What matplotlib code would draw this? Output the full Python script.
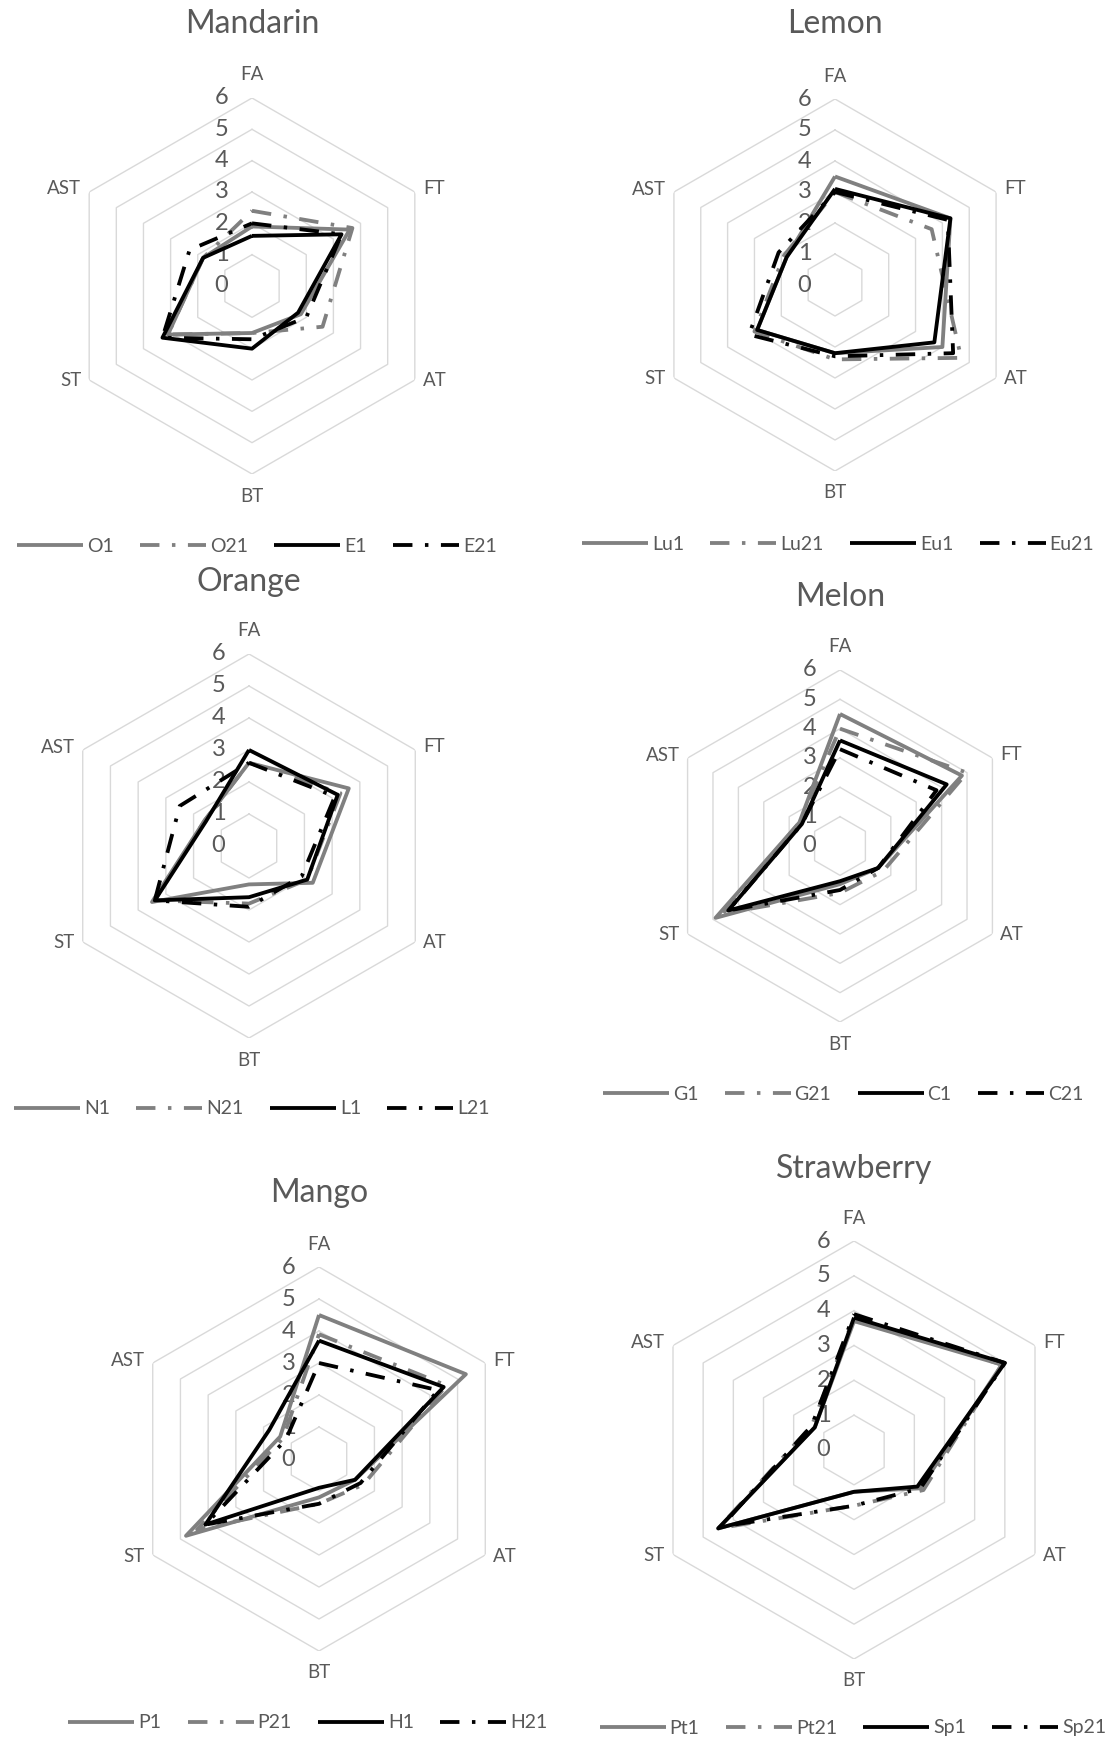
import numpy as np
import matplotlib.pyplot as plt

plt.rcParams['font.family'] = ['Lato', 'DejaVu Sans']
plt.rcParams['lines.scale_dashes'] = False

categories = ['FA', 'FT', 'AT', 'BT', 'ST', 'AST']
levels = [0, 1, 2, 3, 4, 5, 6]

# values per attribute, in the order of categories
mandarin_names = ['O1', 'O21', 'E1', 'E21']
mandarin_o1 = [1.9, 3.6, 1.8, 1.5, 3.1, 1.8]
mandarin_o21 = [2.4, 3.7, 2.6, 1.5, 3.1, 1.8]
mandarin_e1 = [1.6, 3.3, 1.7, 2.0, 3.3, 1.8]
mandarin_e21 = [2.0, 3.3, 2.0, 1.7, 3.3, 2.3]

lemon_names = ['Lu1', 'Lu21', 'Eu1', 'Eu21']
lemon_lu1 = [3.5, 4.3, 4.0, 2.2, 2.9, 1.8]
lemon_lu21 = [3.0, 3.6, 4.7, 2.4, 3.0, 1.9]
lemon_eu1 = [3.1, 4.3, 3.7, 2.2, 2.9, 1.8]
lemon_eu21 = [3.0, 4.2, 4.4, 2.3, 3.2, 2.1]

orange_names = ['N1', 'N21', 'L1', 'L21']
orange_n1 = [2.6, 3.6, 2.3, 1.2, 3.5, 1.6]
orange_n21 = [2.6, 3.3, 2.1, 1.8, 3.4, 1.6]
orange_l1 = [3.0, 3.2, 2.1, 1.6, 3.4, 1.55]
orange_l21 = [2.6, 3.1, 1.9, 1.9, 3.4, 2.5]

melon_names = ['G1', 'G21', 'C1', 'C21']
melon_g1 = [4.5, 4.8, 1.5, 1.3, 4.9, 1.6]
melon_g21 = [4.0, 5.0, 1.7, 1.6, 4.6, 1.6]
melon_c1 = [3.6, 4.2, 1.5, 1.2, 4.4, 1.5]
melon_c21 = [3.3, 3.8, 1.5, 1.5, 4.4, 1.5]

mango_names = ['P1', 'P21', 'H1', 'H21']
mango_p1 = [4.5, 5.3, 1.3, 1.2, 4.8, 1.4]
mango_p21 = [3.9, 4.6, 1.6, 1.4, 4.4, 1.3]
mango_h1 = [3.7, 4.5, 1.3, 0.9, 4.1, 1.8]
mango_h21 = [3.0, 4.3, 1.5, 1.4, 4.1, 1.2]

strawberry_names = ['Pt1', 'Pt21', 'Sp1', 'Sp21']
strawberry_pt1 = [3.7, 4.9, 2.2, 1.2, 4.5, 1.3]
strawberry_pt21 = [3.8, 4.9, 2.3, 1.6, 4.5, 1.4]
strawberry_sp1 = [3.8, 5.0, 2.1, 1.2, 4.5, 1.3]
strawberry_sp21 = [3.9, 5.0, 2.2, 1.6, 4.4, 1.4]

GRAY = '#808080'
TXT = '#595959'
DASHDOT = (0, (14, 9, 2.5, 9))
styles = [
    dict(color=GRAY, lw=2.75, ls='-'),
    dict(color=GRAY, lw=2.75, ls=DASHDOT),
    dict(color='black', lw=2.75, ls='-'),
    dict(color='black', lw=2.75, ls=DASHDOT),
]

# label offsets from each outer vertex, in pixels (dx, dy, ha)
label_offsets = [(0, 23, 'center'), (8, 3, 'left'), (8, -1, 'left'),
                 (0, -22, 'center'), (-8, -1, 'right'), (-8, 3, 'right')]

W, H = 1120, 1741
fig = plt.figure(figsize=(W / 100, H / 100), dpi=100)
px = 72 / 100


def draw_panel(title, names, series, cx, cy, R, title_y, legend_x, legend_y):
    ax = fig.add_axes([(cx - R) / W, 1 - (cy + R) / H, 2 * R / W, 2 * R / H],
                      projection='polar')
    ax.set_theta_zero_location('N')
    ax.set_theta_direction(-1)
    ax.set_ylim(0, 6)
    ax.axis('off')

    theta = np.linspace(0, 2 * np.pi, len(categories), endpoint=False)
    closed = np.append(theta, theta[0])

    for lv in levels[1:]:
        ax.plot(closed, [lv] * len(closed), color='#d9d9d9', lw=1, zorder=1)
    for lv in levels:
        ax.annotate(str(lv), xy=(0, lv), xytext=(-17, 0), textcoords='offset points',
                    ha='right', va='center', fontsize=17, color=TXT, zorder=2)

    for t, c, (dx, dy, ha) in zip(theta, categories, label_offsets):
        ax.annotate(c, xy=(t, 6), xytext=(dx * px, dy * px), textcoords='offset points',
                    ha=ha, va='center', fontsize=13.5, color=TXT)

    handles = []
    for name, vals, st in zip(names, series, styles):
        h, = ax.plot(closed, list(vals) + [vals[0]], label=name, zorder=3,
                     solid_capstyle='butt', dash_capstyle='butt', **st)
        handles.append(h)

    fig.text(cx / W, 1 - title_y / H, title, ha='center', va='center',
             fontsize=23, color=TXT)
    fig.legend(handles=handles, loc='center', bbox_to_anchor=(legend_x / W, 1 - legend_y / H),
               ncol=4, frameon=False, fontsize=14, labelcolor=TXT,
               handlelength=3.4, handletextpad=0.2, columnspacing=1.35,
               borderpad=0.2, borderaxespad=0)


draw_panel('Mandarin', mandarin_names,
           [mandarin_o1, mandarin_o21, mandarin_e1, mandarin_e21],
           252, 286, 188, 24, 257, 546)
draw_panel('Lemon', lemon_names,
           [lemon_lu1, lemon_lu21, lemon_eu1, lemon_eu21],
           835, 285, 186, 24, 838, 544)
draw_panel('Orange', orange_names,
           [orange_n1, orange_n21, orange_l1, orange_l21],
           249, 846, 192, 582, 252, 1109)
draw_panel('Melon', melon_names,
           [melon_g1, melon_g21, melon_c1, melon_c21],
           840, 846, 176, 597, 843, 1094)
draw_panel('Mango', mango_names,
           [mango_p1, mango_p21, mango_h1, mango_h21],
           319, 1459, 192, 1193, 308, 1723)
draw_panel('Strawberry', strawberry_names,
           [strawberry_pt1, strawberry_pt21, strawberry_sp1, strawberry_sp21],
           854, 1450, 209, 1169, 853, 1728)

fig.savefig('out.png', dpi=100, facecolor='white')
